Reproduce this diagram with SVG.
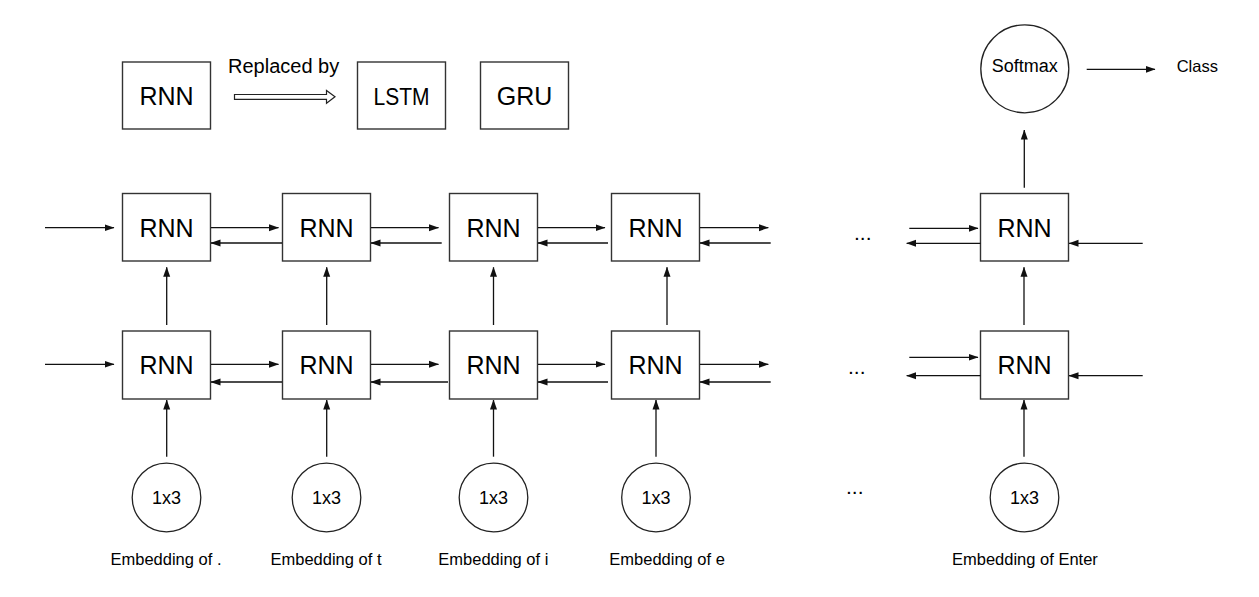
<svg xmlns="http://www.w3.org/2000/svg" width="1259" height="597" viewBox="0 0 1259 597">
<style>
  .box{fill:#fff;stroke:#333;stroke-width:1.4}
  .circ{fill:#fff;stroke:#222;stroke-width:1.3}
  .t{font-family:"Liberation Sans",Arial,sans-serif;fill:#000}
  .big{font-size:25px;text-anchor:middle}
  .mid{font-size:18px;text-anchor:middle}
  .lab{font-size:16.5px}
  .dots{font-size:21px}
  .ln{stroke:#111;stroke-width:1.3;fill:none;marker-end:url(#ah)}
</style>
<defs>
  <marker id="ah" markerWidth="10" markerHeight="8" refX="9.5" refY="4" orient="auto" markerUnits="userSpaceOnUse">
    <path d="M0,0.5 L10,4 L0,7.5 Z" fill="#111"/>
  </marker>
</defs>
<rect width="1259" height="597" fill="#fff"/>

<!-- legend -->
<g id="legend-rnn"><rect class="box" x="122.5" y="62" width="88" height="67"/><text class="t big" x="166.5" y="105">RNN</text></g>
<g id="legend-replaced"><text class="t" x="228" y="73" style="font-size:20px">Replaced by</text>
  <path d="M234.5,94.5 H326.5 V90.5 L335,96.8 L326.5,103.3 V99.3 H234.5 Z" fill="#fff" stroke="#222" stroke-width="1.2"/></g>
<g id="legend-lstm"><rect class="box" x="357.5" y="62" width="88" height="67"/><text class="t" x="401.5" y="104.5" style="font-size:23.5px;text-anchor:middle" textLength="56" lengthAdjust="spacingAndGlyphs">LSTM</text></g>
<g id="legend-gru"><rect class="box" x="480.5" y="62" width="88" height="67"/><text class="t big" x="524.5" y="104.5">GRU</text></g>

<!-- top row RNNs -->
<g id="rnn-t1"><rect class="box" x="122.5" y="193.5" width="88" height="67.5"/><text class="t big" x="166.5" y="236.7">RNN</text></g>
<g id="rnn-t2"><rect class="box" x="282.5" y="193.5" width="88" height="67.5"/><text class="t big" x="326.5" y="236.7">RNN</text></g>
<g id="rnn-t3"><rect class="box" x="449.5" y="193.5" width="88" height="67.5"/><text class="t big" x="493.5" y="236.7">RNN</text></g>
<g id="rnn-t4"><rect class="box" x="611.5" y="193.5" width="88" height="67.5"/><text class="t big" x="655.5" y="236.7">RNN</text></g>
<g id="rnn-t5"><rect class="box" x="980.5" y="193.5" width="88" height="67.5"/><text class="t big" x="1024.5" y="236.7">RNN</text></g>

<!-- bottom row RNNs -->
<g id="rnn-b1"><rect class="box" x="122.5" y="331" width="88" height="68"/><text class="t big" x="166.5" y="374">RNN</text></g>
<g id="rnn-b2"><rect class="box" x="282.5" y="331" width="88" height="68"/><text class="t big" x="326.5" y="374">RNN</text></g>
<g id="rnn-b3"><rect class="box" x="449.5" y="331" width="88" height="68"/><text class="t big" x="493.5" y="374">RNN</text></g>
<g id="rnn-b4"><rect class="box" x="611.5" y="331" width="88" height="68"/><text class="t big" x="655.5" y="374">RNN</text></g>
<g id="rnn-b5"><rect class="box" x="980.5" y="331" width="88" height="68"/><text class="t big" x="1024.5" y="374">RNN</text></g>

<!-- embeddings -->
<g id="emb-1"><circle class="circ" cx="166.5" cy="497.5" r="34.3"/><text class="t mid" x="166.5" y="503.5">1x3</text><text class="t lab" x="110.5" y="565">Embedding of .</text></g>
<g id="emb-2"><circle class="circ" cx="326.5" cy="497.5" r="34.3"/><text class="t mid" x="326.5" y="503.5">1x3</text><text class="t lab" x="270.5" y="565">Embedding of t</text></g>
<g id="emb-3"><circle class="circ" cx="493.5" cy="497.5" r="34.3"/><text class="t mid" x="493.5" y="503.5">1x3</text><text class="t lab" x="438.3" y="565">Embedding of i</text></g>
<g id="emb-4"><circle class="circ" cx="656" cy="497.5" r="34.3"/><text class="t mid" x="656" y="503.5">1x3</text><text class="t lab" x="609.3" y="565">Embedding of e</text></g>
<g id="emb-5"><circle class="circ" cx="1024.5" cy="497.5" r="34.3"/><text class="t mid" x="1024.5" y="503.5">1x3</text><text class="t lab" x="952" y="565">Embedding of Enter</text></g>

<!-- softmax / class -->
<g id="softmax"><circle class="circ" cx="1024.8" cy="68.8" r="44"/><text class="t mid" x="1024.8" y="72.3">Softmax</text></g>
<g id="class"><text class="t lab" x="1176.7" y="71.7">Class</text></g>

<!-- ellipses -->
<g id="dots"><text class="t dots" x="854" y="240">...</text><text class="t dots" x="848" y="374">...</text><text class="t dots" x="846" y="493.5">...</text></g>

<!-- connectors -->
<g id="connectors">
  <!-- top row horizontal -->
  <line class="ln" x1="45" y1="227.7" x2="114" y2="227.7"/>
  <line class="ln" x1="211" y1="227.7" x2="278.5" y2="227.7"/>
  <line class="ln" x1="282" y1="243" x2="211" y2="243"/>
  <line class="ln" x1="371" y1="227.7" x2="438.5" y2="227.7"/>
  <line class="ln" x1="441.7" y1="243" x2="371" y2="243"/>
  <line class="ln" x1="538" y1="227.7" x2="605" y2="227.7"/>
  <line class="ln" x1="608" y1="243" x2="538" y2="243"/>
  <line class="ln" x1="700" y1="227.7" x2="768.3" y2="227.7"/>
  <line class="ln" x1="770.7" y1="243" x2="700" y2="243"/>
  <line class="ln" x1="909.3" y1="228.3" x2="978" y2="228.3"/>
  <line class="ln" x1="980.5" y1="243.3" x2="906.7" y2="243.3"/>
  <line class="ln" x1="1142.7" y1="243.3" x2="1069" y2="243.3"/>
  <!-- bottom row horizontal -->
  <line class="ln" x1="45" y1="364.3" x2="114" y2="364.3"/>
  <line class="ln" x1="211" y1="364.3" x2="278.5" y2="364.3"/>
  <line class="ln" x1="282" y1="382" x2="211" y2="382"/>
  <line class="ln" x1="371" y1="364.3" x2="438.5" y2="364.3"/>
  <line class="ln" x1="448" y1="382" x2="371" y2="382"/>
  <line class="ln" x1="538" y1="364.3" x2="605" y2="364.3"/>
  <line class="ln" x1="608" y1="382" x2="538" y2="382"/>
  <line class="ln" x1="700" y1="364.3" x2="768.3" y2="364.3"/>
  <line class="ln" x1="770.7" y1="382" x2="700" y2="382"/>
  <line class="ln" x1="909.3" y1="357.3" x2="978" y2="357.3"/>
  <line class="ln" x1="980.5" y1="375.7" x2="906.7" y2="375.7"/>
  <line class="ln" x1="1142.7" y1="375.7" x2="1069" y2="375.7"/>
  <!-- vertical between rows -->
  <line class="ln" x1="166.7" y1="325" x2="166.7" y2="267.3"/>
  <line class="ln" x1="326.7" y1="325" x2="326.7" y2="267.3"/>
  <line class="ln" x1="493.5" y1="325" x2="493.5" y2="267.3"/>
  <line class="ln" x1="667" y1="325" x2="667" y2="267.3"/>
  <line class="ln" x1="1024" y1="325" x2="1024" y2="267.3"/>
  <!-- vertical from embeddings -->
  <line class="ln" x1="166.7" y1="456.7" x2="166.7" y2="400"/>
  <line class="ln" x1="326.7" y1="456.7" x2="326.7" y2="400"/>
  <line class="ln" x1="493.5" y1="456.7" x2="493.5" y2="400"/>
  <line class="ln" x1="656" y1="456.7" x2="656" y2="400"/>
  <line class="ln" x1="1024" y1="456.7" x2="1024" y2="400"/>
  <!-- to softmax and class -->
  <line class="ln" x1="1024.3" y1="187.7" x2="1024.3" y2="130"/>
  <line class="ln" x1="1086.7" y1="69.3" x2="1155" y2="69.3"/>
</g>
</svg>
